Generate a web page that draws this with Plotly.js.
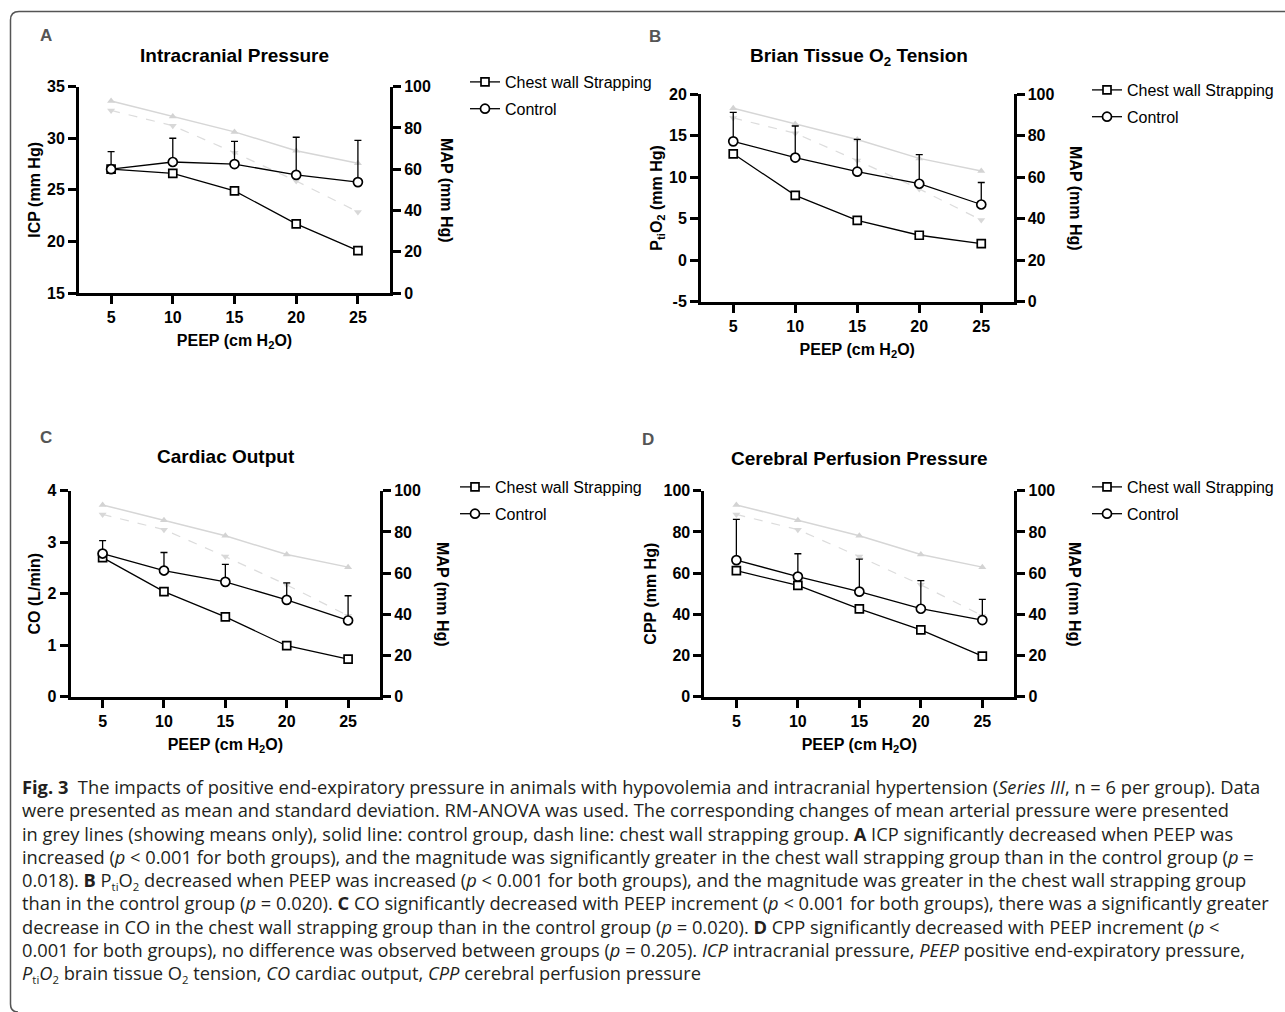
<!DOCTYPE html>
<html>
<head>
<meta charset="utf-8">
<script src="https://cdn.plot.ly/plotly-3.0.1.min.js"></script>
<style>
html,body{margin:0;padding:0;background:#fff;width:1285px;height:1012px;overflow:hidden}
#chart{position:absolute;left:0;top:0;width:1285px;height:1012px}
#caption{position:absolute;left:22px;top:775px;font-family:"Open Sans","Noto Sans",sans-serif;font-size:18.3px;line-height:23.3px;color:#231f20;white-space:nowrap}
#caption .sb{font-size:0.62em;position:relative;top:0.35em;line-height:1}
</style>
</head>
<body>
<div id="chart"></div>
<div id="caption"><b>Fig. 3</b>&nbsp; The impacts of positive end-expiratory pressure in animals with hypovolemia and intracranial hypertension (<i>Series III</i>, n = 6 per group). Data<br>were presented as mean and standard deviation. RM-ANOVA was used. The corresponding changes of mean arterial pressure were presented<br>in grey lines (showing means only), solid line: control group, dash line: chest wall strapping group. <b>A</b> ICP significantly decreased when PEEP was<br>increased (<i>p</i> &lt; 0.001 for both groups), and the magnitude was significantly greater in the chest wall strapping group than in the control group (<i>p</i> =<br>0.018). <b>B</b> P<span class="sb">ti</span>O<span class="sb">2</span> decreased when PEEP was increased (<i>p</i> &lt; 0.001 for both groups), and the magnitude was greater in the chest wall strapping group<br>than in the control group (<i>p</i> = 0.020). <b>C</b> CO significantly decreased with PEEP increment (<i>p</i> &lt; 0.001 for both groups), there was a significantly greater<br>decrease in CO in the chest wall strapping group than in the control group (<i>p</i> = 0.020). <b>D</b> CPP significantly decreased with PEEP increment (<i>p</i> &lt;<br>0.001 for both groups), no difference was observed between groups (<i>p</i> = 0.205). <i>ICP</i> intracranial pressure, <i>PEEP</i> positive end-expiratory pressure,<br><i>P</i><span class="sb">ti</span><i>O</i><span class="sb">2</span> brain tissue O<span class="sb">2</span> tension, <i>CO</i> cardiac output, <i>CPP</i> cerebral perfusion pressure</div>
<script>
// ---------- data ----------
const peep = [5, 10, 15, 20, 25];
const peepTicks = [5, 10, 15, 20, 25];

const mapControl   = [93.1, 85.6, 78.1, 69.0, 62.9];
const mapStrapping = [88.5, 81.1, 68.0, 54.3, 39.3];
const mapTicks = [0, 20, 40, 60, 80, 100];

const icpControl     = [27.0, 27.7, 27.5, 26.45, 25.75];
const icpControlSD   = [1.7, 2.3, 2.2, 3.65, 4.05];
const icpStrapping   = [27.0, 26.6, 24.9, 21.7, 19.1];
const icpStrappingSD = [1.7, 1.7, 2.6, 1.65, 1.1];
const icpTicks = [15, 20, 25, 30, 35];
const icpTickText = ['15', '20', '25', '30', '35'];

const ptio2Control     = [14.3, 12.35, 10.65, 9.2, 6.7];
const ptio2ControlSD   = [3.5, 3.8, 3.9, 3.5, 2.65];
const ptio2Strapping   = [12.8, 7.8, 4.8, 3.0, 2.0];
const ptio2StrappingSD = [2.2, 1.8, 2.5, 3.4, 2.65];
const ptio2Ticks = [-5, 0, 5, 10, 15, 20];
const ptio2TickText = ['-5', '0', '5', '10', '15', '20'];

const coControl     = [2.78, 2.45, 2.23, 1.88, 1.48];
const coControlSD   = [0.25, 0.35, 0.34, 0.33, 0.48];
const coStrapping   = [2.70, 2.04, 1.55, 0.99, 0.73];
const coStrappingSD = [0.47, 0.53, 0.46, 0.35, 0.21];
const coTicks = [0, 1, 2, 3, 4];
const coTickText = ['0', '1', '2', '3', '4'];

const cppControl     = [66.3, 58.3, 51.0, 42.7, 37.2];
const cppControlSD   = [19.8, 11.1, 15.8, 13.6, 10.0];
const cppStrapping   = [61.2, 54.0, 42.6, 32.4, 19.7];
const cppStrappingSD = [11.8, 9.2, 10.7, 10.1, 14.9];
const cppTicks = [0, 20, 40, 60, 80, 100];
const cppTickText = ['0', '20', '40', '60', '80', '100'];

const seriesNames = ['Chest wall Strapping', 'Control'];

// ---------- layout helpers ----------
const W = 1285, H = 1012;
const px = v => v / W;
const py = v => 1 - v / H;
const FONT = 'Liberation Sans, Arial, sans-serif';

const panels = [
  {letter:'A', title:'Intracranial Pressure', yTitle:'ICP (mm Hg)',
   xa:'x', ym:'y', yd:'y2', xk:'xaxis', ymk:'yaxis', ydk:'yaxis2', lg:'legend',
   dom:{l:79, r:390, t:86.7, b:293}, range:[15,35], ticks:icpTicks, tickText:icpTickText,
   c:icpControl, cs:icpControlSD, s:icpStrapping, ss:icpStrappingSD,
   letterPos:[46,35], titlePos:[235,55], mapPos:[447,190], legendPos:[465,65]},
  {letter:'B', title:'Brian Tissue O<sub>2</sub> Tension', yTitle:'P<sub>ti</sub>O<sub>2</sub> (mm Hg)',
   xa:'x2', ym:'y3', yd:'y4', xk:'xaxis2', ymk:'yaxis3', ydk:'yaxis4', lg:'legend2',
   dom:{l:701, r:1013.5, t:94, b:301.7}, range:[-5,20], ticks:ptio2Ticks, tickText:ptio2TickText,
   c:ptio2Control, cs:ptio2ControlSD, s:ptio2Strapping, ss:ptio2StrappingSD,
   letterPos:[655,36], titlePos:[859,57], mapPos:[1075,198], legendPos:[1087,73]},
  {letter:'C', title:'Cardiac Output', yTitle:'CO (L/min)',
   xa:'x3', ym:'y5', yd:'y6', xk:'xaxis3', ymk:'yaxis5', ydk:'yaxis6', lg:'legend3',
   dom:{l:70.7, r:380, t:490.7, b:696.7}, range:[0,4], ticks:coTicks, tickText:coTickText,
   c:coControl, cs:coControlSD, s:coStrapping, ss:coStrappingSD,
   letterPos:[46,438], titlePos:[226,457], mapPos:[443,594], legendPos:[455,470]},
  {letter:'D', title:'Cerebral Perfusion Pressure', yTitle:'CPP (mm Hg)',
   xa:'x4', ym:'y7', yd:'y8', xk:'xaxis4', ymk:'yaxis7', ydk:'yaxis8', lg:'legend4',
   dom:{l:704.4, r:1014.3, t:490.7, b:696.7}, range:[0,100], ticks:cppTicks, tickText:cppTickText,
   c:cppControl, cs:cppControlSD, s:cppStrapping, ss:cppStrappingSD,
   letterPos:[648,439], titlePos:[859,458], mapPos:[1075,594], legendPos:[1087,470]}
];

const axisBase = {
  showline:true, linewidth:3, linecolor:'black', showgrid:false, zeroline:false,
  ticks:'outside', ticklen:8, tickwidth:3, tickcolor:'black',
  tickfont:{family:FONT, size:16, weight:'bold', color:'black'}, fixedrange:true
};

const traces = [];
const layout = {
  width:W, height:H, margin:{l:0,r:0,t:0,b:0},
  paper_bgcolor:'white', plot_bgcolor:'rgba(0,0,0,0)',
  font:{family:FONT, color:'black'},
  showlegend:true, annotations:[], shapes:[]
};

panels.forEach(p => {
  // grey MAP lines (right axis)
  traces.push({x:peep, y:mapControl, xaxis:p.xa, yaxis:p.ym, mode:'lines+markers',
    line:{color:'#d6d6d6', width:1.5}, marker:{symbol:'triangle-up', size:7, color:'#d3d3d3'},
    showlegend:false, hoverinfo:'skip', name:'MAP control'});
  traces.push({x:peep, y:mapStrapping, xaxis:p.xa, yaxis:p.ym, mode:'lines+markers',
    line:{color:'#dcdcdc', width:1.2, dash:'dash'}, marker:{symbol:'triangle-down', size:7, color:'#d8d8d8'},
    showlegend:false, hoverinfo:'skip', name:'MAP strapping'});
  // data series (left axis)
  traces.push({x:peep, y:p.s, xaxis:p.xa, yaxis:p.yd, mode:'lines+markers', name:seriesNames[0],
    legend:p.lg, legendgroup:p.letter+'s',
    line:{color:'black', width:1.3},
    marker:{symbol:'square', size:8, color:'white', line:{color:'black', width:1.7}},
    error_y:{type:'data', symmetric:false, arrayminus:p.ss, color:'black', thickness:1.3, width:3.5}});
  traces.push({x:peep, y:p.c, xaxis:p.xa, yaxis:p.yd, mode:'lines+markers', name:seriesNames[1],
    legend:p.lg, legendgroup:p.letter+'c',
    line:{color:'black', width:1.3},
    marker:{symbol:'circle', size:9, color:'white', line:{color:'black', width:1.7}},
    error_y:{type:'data', symmetric:false, array:p.cs, color:'black', thickness:1.3, width:3.5}});

  const dx = [px(p.dom.l), px(p.dom.r)];
  const dy = [py(p.dom.b), py(p.dom.t)];
  layout[p.xk] = Object.assign({}, axisBase, {domain:dx, anchor:p.ym, range:[2.4,27.6], tickvals:peepTicks,
    title:{text:'PEEP (cm H<sub>2</sub>O)', font:{family:FONT, size:16, weight:'bold', color:'black'}, standoff:10}});
  layout[p.ymk] = Object.assign({}, axisBase, {domain:dy, anchor:p.xa, side:'right', range:[0,100], tickvals:mapTicks});
  layout[p.ydk] = Object.assign({}, axisBase, {overlaying:p.ym, anchor:p.xa, side:'left', range:p.range,
    tickvals:p.ticks, ticktext:p.tickText,
    title:{text:p.yTitle, font:{family:FONT, size:16, weight:'bold', color:'black'}, standoff:3}});

  layout[p.lg] = {x:px(p.legendPos[0]), y:py(p.legendPos[1]), xanchor:'left', yanchor:'top',
    bgcolor:'rgba(0,0,0,0)', borderwidth:0, font:{family:FONT, size:16, color:'black'},
    traceorder:'grouped', tracegroupgap:3, itemwidth:30};

  layout.annotations.push({text:p.letter, x:px(p.letterPos[0]), y:py(p.letterPos[1]), xref:'paper', yref:'paper',
    showarrow:false, xanchor:'center', yanchor:'middle', font:{family:FONT, size:17, weight:'bold', color:'#555'}});
  layout.annotations.push({text:p.title, x:px(p.titlePos[0]), y:py(p.titlePos[1]), xref:'paper', yref:'paper',
    showarrow:false, xanchor:'center', yanchor:'middle', font:{family:FONT, size:19, weight:'bold', color:'black'}});
  layout.annotations.push({text:'MAP (mm Hg)', x:px(p.mapPos[0]), y:py(p.mapPos[1]), xref:'paper', yref:'paper',
    showarrow:false, xanchor:'center', yanchor:'middle', textangle:90, font:{family:FONT, size:16, weight:'bold', color:'black'}});
});

// figure frame
const fr = (x, y) => px(x).toFixed(5) + ',' + py(y).toFixed(5);
layout.shapes.push({type:'path', xref:'paper', yref:'paper', layer:'below',
  path:'M' + fr(1290,11.5) + ' L' + fr(19,11.5) + ' Q' + fr(10.5,11.5) + ' ' + fr(10.5,20) +
       ' L' + fr(10.5,1004) + ' Q' + fr(10.5,1012) + ' ' + fr(18,1012),
  line:{color:'#555', width:1.5}});

Plotly.newPlot('chart', traces, layout, {staticPlot:true, displayModeBar:false});
</script>
</body>
</html>
